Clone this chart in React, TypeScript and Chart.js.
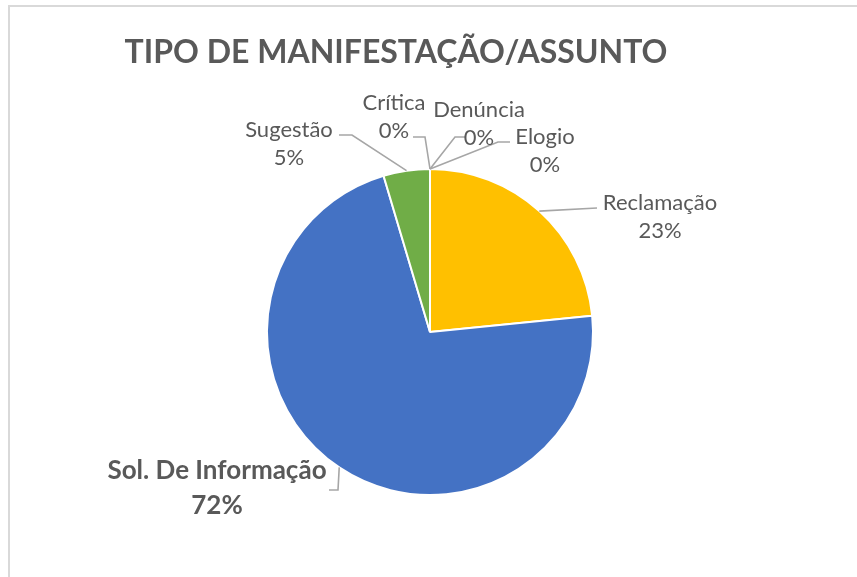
import React, { useEffect, useRef } from "react";
import { Chart, registerables } from "chart.js";

Chart.register(...registerables);

const chartTitle = "TIPO DE MANIFESTAÇÃO/ASSUNTO";
const categories = ["Crítica", "Denúncia", "Elogio", "Reclamação", "Sol. De Informação", "Sugestão"];
const values = [0, 0, 0, 23.4, 72.0, 4.6];
const colors = ["#A5A5A5", "#5B9BD5", "#264478", "#FFC000", "#4472C4", "#70AD47"];

// label block placement relative to pie centre (px), leader start relative to block, elbow length
const labelLayout = [
  { dx: -36, dy: -215.5, ax: 19, ay: 20.5, ex: 12, bold: false },
  { dx: 49, dy: -208, ax: -13, ay: 13, ex: -11, bold: false },
  { dx: 115, dy: -181, ax: -35, ay: -9, ex: -12, bold: false },
  { dx: 230, dy: -115.5, ax: -63, ay: -8.5, ex: 0, bold: false },
  { dx: -213, dy: 156.5, ax: 112, ay: 1.5, ex: 9, bold: true },
  { dx: -141, dy: -188, ax: 50, ay: -9, ex: 13, bold: false },
];

const FONT = "Lato, 'Open Sans', sans-serif";
const TEXT_COLOR = "#595959";

const labelsPlugin = {
  id: "pieLabels",
  afterDraw(chart: any) {
    const ctx = chart.ctx as CanvasRenderingContext2D;
    const meta = chart.getDatasetMeta(0);
    const total = values.reduce((a, b) => a + b, 0);
    ctx.save();
    // title
    ctx.fillStyle = TEXT_COLOR;
    ctx.font = `bold 32px ${FONT}`;
    ctx.textAlign = "center";
    ctx.textBaseline = "alphabetic";
    ctx.fillText(chartTitle, 396, 63);

    meta.data.forEach((arc: any, i: number) => {
      const p = arc.getProps(["x", "y", "startAngle", "endAngle", "outerRadius"], true);
      const mid = (p.startAngle + p.endAngle) / 2;
      const px = p.x + Math.cos(mid) * p.outerRadius;
      const py = p.y + Math.sin(mid) * p.outerRadius;
      const L = labelLayout[i];
      const cx = p.x + L.dx;
      const cy = p.y + L.dy;
      ctx.strokeStyle = "#A6A6A6";
      ctx.lineWidth = 1.6;
      ctx.beginPath();
      ctx.moveTo(cx + L.ax, cy + L.ay);
      ctx.lineTo(cx + L.ax + L.ex, cy + L.ay);
      ctx.lineTo(px, py);
      ctx.stroke();
    });

    meta.data.forEach((arc: any, i: number) => {
      const p = arc.getProps(["x", "y"], true);
      const L = labelLayout[i];
      const cx = p.x + L.dx;
      const cy = p.y + L.dy;
      const pct = Math.round((values[i] / total) * 100) + "%";
      ctx.fillStyle = TEXT_COLOR;
      ctx.textAlign = "center";
      ctx.textBaseline = "middle";
      if (L.bold) {
        ctx.font = `bold 26px ${FONT}`;
        ctx.fillText(categories[i], cx, cy - 17.5);
        ctx.fillText(pct, cx, cy + 17.5);
      } else {
        ctx.font = `22px ${FONT}`;
        ctx.fillText(categories[i], cx, cy - 14);
        ctx.fillText(pct, cx, cy + 14);
      }
    });
    ctx.restore();
  },
};

export default function App() {
  const canvasRef = useRef<HTMLCanvasElement | null>(null);

  useEffect(() => {
    if (!canvasRef.current) return;
    const chart = new Chart(canvasRef.current, {
      type: "pie",
      data: {
        labels: categories,
        datasets: [
          {
            data: values,
            backgroundColor: colors,
            borderColor: "#FFFFFF",
            borderWidth: 2,
          },
        ],
      },
      options: {
        animation: false,
        responsive: false,
        layout: { padding: { top: 168, bottom: 81, left: 266, right: 263 } },
        plugins: {
          legend: { display: false },
          title: { display: false },
          tooltip: { enabled: false },
        },
      },
      plugins: [labelsPlugin],
    });
    return () => chart.destroy();
  }, []);

  return (
    <div style={{ position: "absolute", left: 0, top: 0, width: 857, height: 577, overflow: "hidden", background: "#FFFFFF" }}>
      <div
        style={{
          position: "absolute",
          left: 8,
          top: 5,
          width: 900,
          height: 600,
          borderLeft: "2px solid #D9D9D9",
          borderTop: "2px solid #D9D9D9",
        }}
      />
      <canvas ref={canvasRef} width={857} height={577} style={{ position: "absolute", left: 0, top: 0, display: "block" }} />
    </div>
  );
}
